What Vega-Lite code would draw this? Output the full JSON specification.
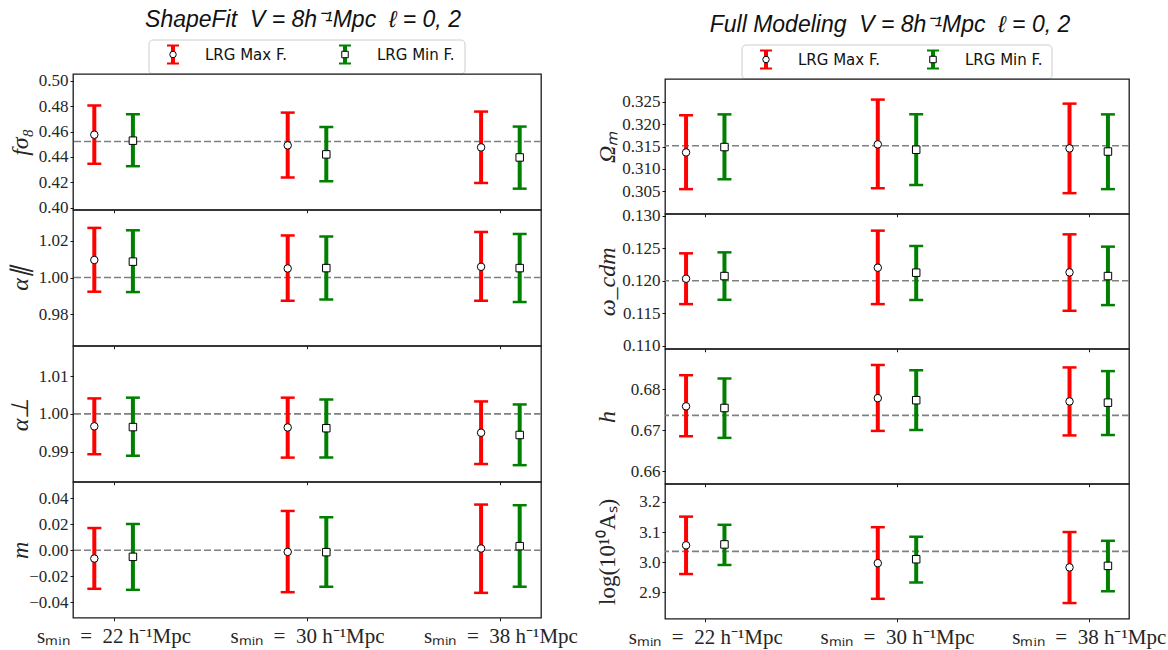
{
  "$schema": "https://vega.github.io/schema/vega-lite/v6.json",
  "background": "white",
  "padding": {"left": 7, "top": 8, "right": 0, "bottom": 0},
  "spacing": 15,
  "config": {
    "view": {"stroke": "#1a1a1a", "strokeWidth": 1.3},
    "font": "Liberation Serif",
    "axis": {
      "grid": false, "domain": false, "ticks": true, "tickColor": "#000", "tickSize": 3, "tickWidth": 0.9,
      "labelFont": "Liberation Serif", "labelFontSize": 17, "labelColor": "#262626", "labelPadding": 2,
      "labelFlush": false, "labelOverlap": false,
      "titleFont": "Liberation Serif", "titleFontSize": 24, "titleFontWeight": "normal", "titleColor": "#262626", "titleBaseline": "middle"
    }
  },
  "datasets": {
    "keys": [
      {"set": "Max", "label": "LRG Max F."},
      {"set": "Min", "label": "LRG Min F."}
    ],
    "refs": [
      {"param": "fs8", "ref": 0.4522},
      {"param": "apar", "ref": 1.0},
      {"param": "aper", "ref": 1.0},
      {"param": "m", "ref": 0.0},
      {"param": "Om", "ref": 0.3152},
      {"param": "ocdm", "ref": 0.12},
      {"param": "h", "ref": 0.6736},
      {"param": "lnAs", "ref": 3.036}
    ],
    "fits": [
      {"param": "fs8", "set": "Max", "smin": 22, "value": 0.4575, "lo": 0.4346, "hi": 0.4805},
      {"param": "fs8", "set": "Min", "smin": 22, "value": 0.4528, "lo": 0.4327, "hi": 0.4736},
      {"param": "fs8", "set": "Max", "smin": 30, "value": 0.4491, "lo": 0.4238, "hi": 0.4749},
      {"param": "fs8", "set": "Min", "smin": 30, "value": 0.4420, "lo": 0.4208, "hi": 0.4636},
      {"param": "fs8", "set": "Max", "smin": 38, "value": 0.4475, "lo": 0.4195, "hi": 0.4757},
      {"param": "fs8", "set": "Min", "smin": 38, "value": 0.4396, "lo": 0.4150, "hi": 0.4639},

      {"param": "apar", "set": "Max", "smin": 22, "value": 1.0095, "lo": 0.9923, "hi": 1.0269},
      {"param": "apar", "set": "Min", "smin": 22, "value": 1.0086, "lo": 0.9921, "hi": 1.0256},
      {"param": "apar", "set": "Max", "smin": 30, "value": 1.0049, "lo": 0.9874, "hi": 1.0228},
      {"param": "apar", "set": "Min", "smin": 30, "value": 1.0051, "lo": 0.9881, "hi": 1.0223},
      {"param": "apar", "set": "Max", "smin": 38, "value": 1.0058, "lo": 0.9874, "hi": 1.0247},
      {"param": "apar", "set": "Min", "smin": 38, "value": 1.0051, "lo": 0.9867, "hi": 1.0236},

      {"param": "aper", "set": "Max", "smin": 22, "value": 0.9967, "lo": 0.9893, "hi": 1.0041},
      {"param": "aper", "set": "Min", "smin": 22, "value": 0.9965, "lo": 0.9889, "hi": 1.0043},
      {"param": "aper", "set": "Max", "smin": 30, "value": 0.9964, "lo": 0.9884, "hi": 1.0043},
      {"param": "aper", "set": "Min", "smin": 30, "value": 0.9962, "lo": 0.9884, "hi": 1.0038},
      {"param": "aper", "set": "Max", "smin": 38, "value": 0.9950, "lo": 0.9867, "hi": 1.0033},
      {"param": "aper", "set": "Min", "smin": 38, "value": 0.9944, "lo": 0.9864, "hi": 1.0025},

      {"param": "m", "set": "Max", "smin": 22, "value": -0.0064, "lo": -0.0296, "hi": 0.0170},
      {"param": "m", "set": "Min", "smin": 22, "value": -0.0051, "lo": -0.0304, "hi": 0.0201},
      {"param": "m", "set": "Max", "smin": 30, "value": -0.0013, "lo": -0.0322, "hi": 0.0301},
      {"param": "m", "set": "Min", "smin": 30, "value": -0.0015, "lo": -0.0280, "hi": 0.0252},
      {"param": "m", "set": "Max", "smin": 38, "value": 0.0013, "lo": -0.0327, "hi": 0.0350},
      {"param": "m", "set": "Min", "smin": 38, "value": 0.0031, "lo": -0.0280, "hi": 0.0345},

      {"param": "Om", "set": "Max", "smin": 22, "value": 0.3137, "lo": 0.3055, "hi": 0.3220},
      {"param": "Om", "set": "Min", "smin": 22, "value": 0.3149, "lo": 0.3077, "hi": 0.3222},
      {"param": "Om", "set": "Max", "smin": 30, "value": 0.3155, "lo": 0.3057, "hi": 0.3255},
      {"param": "Om", "set": "Min", "smin": 30, "value": 0.3143, "lo": 0.3064, "hi": 0.3222},
      {"param": "Om", "set": "Max", "smin": 38, "value": 0.3146, "lo": 0.3046, "hi": 0.3246},
      {"param": "Om", "set": "Min", "smin": 38, "value": 0.3139, "lo": 0.3055, "hi": 0.3222},

      {"param": "ocdm", "set": "Max", "smin": 22, "value": 0.12031, "lo": 0.11639, "hi": 0.12423},
      {"param": "ocdm", "set": "Min", "smin": 22, "value": 0.12072, "lo": 0.11706, "hi": 0.12438},
      {"param": "ocdm", "set": "Max", "smin": 30, "value": 0.12201, "lo": 0.11639, "hi": 0.12773},
      {"param": "ocdm", "set": "Min", "smin": 30, "value": 0.12124, "lo": 0.11701, "hi": 0.12536},
      {"param": "ocdm", "set": "Max", "smin": 38, "value": 0.12129, "lo": 0.11536, "hi": 0.12716},
      {"param": "ocdm", "set": "Min", "smin": 38, "value": 0.12072, "lo": 0.11624, "hi": 0.12526},

      {"param": "h", "set": "Max", "smin": 22, "value": 0.6758, "lo": 0.6685, "hi": 0.6834},
      {"param": "h", "set": "Min", "smin": 22, "value": 0.6754, "lo": 0.6681, "hi": 0.6826},
      {"param": "h", "set": "Max", "smin": 30, "value": 0.6778, "lo": 0.6698, "hi": 0.6859},
      {"param": "h", "set": "Min", "smin": 30, "value": 0.6773, "lo": 0.6700, "hi": 0.6846},
      {"param": "h", "set": "Max", "smin": 38, "value": 0.6770, "lo": 0.6687, "hi": 0.6853},
      {"param": "h", "set": "Min", "smin": 38, "value": 0.6767, "lo": 0.6688, "hi": 0.6844},

      {"param": "lnAs", "set": "Max", "smin": 22, "value": 3.056, "lo": 2.961, "hi": 3.151},
      {"param": "lnAs", "set": "Min", "smin": 22, "value": 3.059, "lo": 2.991, "hi": 3.124},
      {"param": "lnAs", "set": "Max", "smin": 30, "value": 2.997, "lo": 2.879, "hi": 3.116},
      {"param": "lnAs", "set": "Min", "smin": 30, "value": 3.010, "lo": 2.933, "hi": 3.084},
      {"param": "lnAs", "set": "Max", "smin": 38, "value": 2.983, "lo": 2.865, "hi": 3.100},
      {"param": "lnAs", "set": "Min", "smin": 38, "value": 2.988, "lo": 2.904, "hi": 3.071}
    ]
  },
  "hconcat": [
    {
      "spacing": 0,
      "bounds": "flush",
      "center": true,
      "vconcat": [
        {
          "title": {"text": "ShapeFit\u00a0\u00a0V = 8h⁻¹Mpc\u00a0\u00a0ℓ = 0, 2", "font": "Liberation Sans", "fontSize": 23, "fontStyle": "italic", "fontWeight": "normal", "color": "#111", "anchor": "middle", "frame": "group", "offset": 8, "dx": -4},
          "width": 316, "height": 34,
          "view": {"stroke": null},
          "layer": [
            {"data": {"values": [{}]}, "mark": {"type": "rect", "filled": false, "stroke": "#cccccc", "strokeWidth": 1, "cornerRadius": 4, "y2Offset": -5}, "encoding": {}},
            {
              "data": {"name": "keys"},
              "encoding": {"x": {"field": "set", "type": "nominal", "scale": {"type": "point", "padding": 0, "domain": ["Max", "Min"], "range": [24, 196]}, "axis": null}},
              "layer": [
                {"mark": {"type": "tick", "orient": "vertical", "size": 18, "thickness": 4, "opacity": 1, "yOffset": -2.5},
                 "encoding": {"color": {"field": "set", "type": "nominal", "scale": {"domain": ["Max", "Min"], "range": ["#ff0000", "#008000"]}, "legend": null}}},
                {"mark": {"type": "tick", "orient": "horizontal", "size": 12, "thickness": 2, "opacity": 1, "yOffset": -11.5},
                 "encoding": {"color": {"field": "set", "type": "nominal", "legend": null}}},
                {"mark": {"type": "tick", "orient": "horizontal", "size": 12, "thickness": 2, "opacity": 1, "yOffset": 6.5},
                 "encoding": {"color": {"field": "set", "type": "nominal", "legend": null}}},
                {"mark": {"type": "point", "filled": true, "fill": "white", "stroke": "black", "strokeWidth": 1, "size": 42, "opacity": 1, "yOffset": -2.5},
                 "encoding": {"shape": {"field": "set", "type": "nominal", "scale": {"domain": ["Max", "Min"], "range": ["circle", "square"]}, "legend": null}}},
                {"mark": {"type": "text", "align": "left", "baseline": "middle", "dx": 32, "yOffset": -2.5, "font": "DejaVu Sans", "fontSize": 15, "color": "#111"},
                 "encoding": {"text": {"field": "label"}}}
              ]
            }
          ]
        },
        {
          "width": 468, "height": 135.75,
          "layer": [
            {"data": {"name": "refs"}, "transform": [{"filter": "datum.param === 'fs8'"}],
             "mark": {"type": "rule", "color": "#808080", "strokeWidth": 1.6, "strokeDash": [7, 3]},
             "encoding": {"y": {"field": "ref", "type": "quantitative", "scale": {"domain": [0.3984, 0.5053], "nice": false, "zero": false},
               "axis": {"values": [0.4, 0.42, 0.44, 0.46, 0.48, 0.5], "tickCount": 12, "format": ".2f", "labelOverlap": false, "title": "fσ₈", "titleFontStyle": "italic", "titleX": -53}}}},
            {"data": {"name": "fits"}, "transform": [{"filter": "datum.param === 'fs8' && datum.set === 'Max'"}],
             "encoding": {"x": {"field": "smin", "type": "quantitative", "scale": {"domain": [20.32, 39.68], "nice": false, "zero": false}, "axis": {"values": [22, 30, 38], "labels": false, "title": null}}},
             "layer": [
               {"mark": {"type": "rule", "color": "#ff0000", "strokeWidth": 4, "xOffset": -19.3}, "encoding": {"y": {"field": "lo", "type": "quantitative"}, "y2": {"field": "hi"}}},
               {"transform": [{"fold": ["lo", "hi"], "as": ["end", "bound"]}], "mark": {"type": "tick", "orient": "horizontal", "color": "#ff0000", "size": 14, "thickness": 2.5, "opacity": 1, "xOffset": -19.3}, "encoding": {"y": {"field": "bound", "type": "quantitative"}}},
               {"mark": {"type": "point", "shape": "circle", "filled": true, "fill": "white", "stroke": "black", "strokeWidth": 1, "size": 56, "opacity": 1, "xOffset": -19.3}, "encoding": {"y": {"field": "value", "type": "quantitative"}}}
             ]},
            {"data": {"name": "fits"}, "transform": [{"filter": "datum.param === 'fs8' && datum.set === 'Min'"}],
             "encoding": {"x": {"field": "smin", "type": "quantitative", "scale": {"domain": [20.32, 39.68], "nice": false, "zero": false}, "axis": {"values": [22, 30, 38], "labels": false, "title": null}}},
             "layer": [
               {"mark": {"type": "rule", "color": "#008000", "strokeWidth": 4, "xOffset": 19.3}, "encoding": {"y": {"field": "lo", "type": "quantitative"}, "y2": {"field": "hi"}}},
               {"transform": [{"fold": ["lo", "hi"], "as": ["end", "bound"]}], "mark": {"type": "tick", "orient": "horizontal", "color": "#008000", "size": 14, "thickness": 2.5, "opacity": 1, "xOffset": 19.3}, "encoding": {"y": {"field": "bound", "type": "quantitative"}}},
               {"mark": {"type": "point", "shape": "square", "filled": true, "fill": "white", "stroke": "black", "strokeWidth": 1, "size": 56, "opacity": 1, "xOffset": 19.3}, "encoding": {"y": {"field": "value", "type": "quantitative"}}}
             ]}
          ]
        },
        {
          "width": 468, "height": 135.75,
          "layer": [
            {"data": {"name": "refs"}, "transform": [{"filter": "datum.param === 'apar'"}],
             "mark": {"type": "rule", "color": "#808080", "strokeWidth": 1.6, "strokeDash": [7, 3]},
             "encoding": {"y": {"field": "ref", "type": "quantitative", "scale": {"domain": [0.963, 1.0366], "nice": false, "zero": false},
               "axis": {"values": [0.98, 1.0, 1.02], "tickCount": 12, "format": ".2f", "labelOverlap": false, "title": "α∥", "titleFontStyle": "italic", "titleX": -53}}}},
            {"data": {"name": "fits"}, "transform": [{"filter": "datum.param === 'apar' && datum.set === 'Max'"}],
             "encoding": {"x": {"field": "smin", "type": "quantitative", "scale": {"domain": [20.32, 39.68], "nice": false, "zero": false}, "axis": {"values": [22, 30, 38], "labels": false, "title": null}}},
             "layer": [
               {"mark": {"type": "rule", "color": "#ff0000", "strokeWidth": 4, "xOffset": -19.3}, "encoding": {"y": {"field": "lo", "type": "quantitative"}, "y2": {"field": "hi"}}},
               {"transform": [{"fold": ["lo", "hi"], "as": ["end", "bound"]}], "mark": {"type": "tick", "orient": "horizontal", "color": "#ff0000", "size": 14, "thickness": 2.5, "opacity": 1, "xOffset": -19.3}, "encoding": {"y": {"field": "bound", "type": "quantitative"}}},
               {"mark": {"type": "point", "shape": "circle", "filled": true, "fill": "white", "stroke": "black", "strokeWidth": 1, "size": 56, "opacity": 1, "xOffset": -19.3}, "encoding": {"y": {"field": "value", "type": "quantitative"}}}
             ]},
            {"data": {"name": "fits"}, "transform": [{"filter": "datum.param === 'apar' && datum.set === 'Min'"}],
             "encoding": {"x": {"field": "smin", "type": "quantitative", "scale": {"domain": [20.32, 39.68], "nice": false, "zero": false}, "axis": {"values": [22, 30, 38], "labels": false, "title": null}}},
             "layer": [
               {"mark": {"type": "rule", "color": "#008000", "strokeWidth": 4, "xOffset": 19.3}, "encoding": {"y": {"field": "lo", "type": "quantitative"}, "y2": {"field": "hi"}}},
               {"transform": [{"fold": ["lo", "hi"], "as": ["end", "bound"]}], "mark": {"type": "tick", "orient": "horizontal", "color": "#008000", "size": 14, "thickness": 2.5, "opacity": 1, "xOffset": 19.3}, "encoding": {"y": {"field": "bound", "type": "quantitative"}}},
               {"mark": {"type": "point", "shape": "square", "filled": true, "fill": "white", "stroke": "black", "strokeWidth": 1, "size": 56, "opacity": 1, "xOffset": 19.3}, "encoding": {"y": {"field": "value", "type": "quantitative"}}}
             ]}
          ]
        },
        {
          "width": 468, "height": 135.75,
          "layer": [
            {"data": {"name": "refs"}, "transform": [{"filter": "datum.param === 'aper'"}],
             "mark": {"type": "rule", "color": "#808080", "strokeWidth": 1.6, "strokeDash": [7, 3]},
             "encoding": {"y": {"field": "ref", "type": "quantitative", "scale": {"domain": [0.982, 1.018], "nice": false, "zero": false},
               "axis": {"values": [0.99, 1.0, 1.01], "tickCount": 12, "format": ".2f", "labelOverlap": false, "title": "α⊥", "titleFontStyle": "italic", "titleX": -53}}}},
            {"data": {"name": "fits"}, "transform": [{"filter": "datum.param === 'aper' && datum.set === 'Max'"}],
             "encoding": {"x": {"field": "smin", "type": "quantitative", "scale": {"domain": [20.32, 39.68], "nice": false, "zero": false}, "axis": {"values": [22, 30, 38], "labels": false, "title": null}}},
             "layer": [
               {"mark": {"type": "rule", "color": "#ff0000", "strokeWidth": 4, "xOffset": -19.3}, "encoding": {"y": {"field": "lo", "type": "quantitative"}, "y2": {"field": "hi"}}},
               {"transform": [{"fold": ["lo", "hi"], "as": ["end", "bound"]}], "mark": {"type": "tick", "orient": "horizontal", "color": "#ff0000", "size": 14, "thickness": 2.5, "opacity": 1, "xOffset": -19.3}, "encoding": {"y": {"field": "bound", "type": "quantitative"}}},
               {"mark": {"type": "point", "shape": "circle", "filled": true, "fill": "white", "stroke": "black", "strokeWidth": 1, "size": 56, "opacity": 1, "xOffset": -19.3}, "encoding": {"y": {"field": "value", "type": "quantitative"}}}
             ]},
            {"data": {"name": "fits"}, "transform": [{"filter": "datum.param === 'aper' && datum.set === 'Min'"}],
             "encoding": {"x": {"field": "smin", "type": "quantitative", "scale": {"domain": [20.32, 39.68], "nice": false, "zero": false}, "axis": {"values": [22, 30, 38], "labels": false, "title": null}}},
             "layer": [
               {"mark": {"type": "rule", "color": "#008000", "strokeWidth": 4, "xOffset": 19.3}, "encoding": {"y": {"field": "lo", "type": "quantitative"}, "y2": {"field": "hi"}}},
               {"transform": [{"fold": ["lo", "hi"], "as": ["end", "bound"]}], "mark": {"type": "tick", "orient": "horizontal", "color": "#008000", "size": 14, "thickness": 2.5, "opacity": 1, "xOffset": 19.3}, "encoding": {"y": {"field": "bound", "type": "quantitative"}}},
               {"mark": {"type": "point", "shape": "square", "filled": true, "fill": "white", "stroke": "black", "strokeWidth": 1, "size": 56, "opacity": 1, "xOffset": 19.3}, "encoding": {"y": {"field": "value", "type": "quantitative"}}}
             ]}
          ]
        },
        {
          "width": 468, "height": 135.75,
          "layer": [
            {"data": {"name": "refs"}, "transform": [{"filter": "datum.param === 'm'"}],
             "mark": {"type": "rule", "color": "#808080", "strokeWidth": 1.6, "strokeDash": [7, 3]},
             "encoding": {"y": {"field": "ref", "type": "quantitative", "scale": {"domain": [-0.0518, 0.0523], "nice": false, "zero": false},
               "axis": {"values": [-0.04, -0.02, 0, 0.02, 0.04], "tickCount": 12, "format": ".2f", "labelOverlap": false, "title": "m", "titleFontStyle": "italic", "titleX": -53}}}},
            {"data": {"name": "fits"}, "transform": [{"filter": "datum.param === 'm' && datum.set === 'Max'"}],
             "encoding": {"x": {"field": "smin", "type": "quantitative", "scale": {"domain": [20.32, 39.68], "nice": false, "zero": false}, "axis": {"values": [22, 30, 38], "title": null, "labelExpr": "'sₘᵢₙ\u00a0\u00a0=\u00a0\u00a0' + datum.value + '\u00a0h⁻¹Mpc'", "labelFontSize": 21, "labelPadding": 5}}},
             "layer": [
               {"mark": {"type": "rule", "color": "#ff0000", "strokeWidth": 4, "xOffset": -19.3}, "encoding": {"y": {"field": "lo", "type": "quantitative"}, "y2": {"field": "hi"}}},
               {"transform": [{"fold": ["lo", "hi"], "as": ["end", "bound"]}], "mark": {"type": "tick", "orient": "horizontal", "color": "#ff0000", "size": 14, "thickness": 2.5, "opacity": 1, "xOffset": -19.3}, "encoding": {"y": {"field": "bound", "type": "quantitative"}}},
               {"mark": {"type": "point", "shape": "circle", "filled": true, "fill": "white", "stroke": "black", "strokeWidth": 1, "size": 56, "opacity": 1, "xOffset": -19.3}, "encoding": {"y": {"field": "value", "type": "quantitative"}}}
             ]},
            {"data": {"name": "fits"}, "transform": [{"filter": "datum.param === 'm' && datum.set === 'Min'"}],
             "encoding": {"x": {"field": "smin", "type": "quantitative", "scale": {"domain": [20.32, 39.68], "nice": false, "zero": false}, "axis": {"values": [22, 30, 38], "title": null, "labelExpr": "'sₘᵢₙ\u00a0\u00a0=\u00a0\u00a0' + datum.value + '\u00a0h⁻¹Mpc'", "labelFontSize": 21, "labelPadding": 5}}},
             "layer": [
               {"mark": {"type": "rule", "color": "#008000", "strokeWidth": 4, "xOffset": 19.3}, "encoding": {"y": {"field": "lo", "type": "quantitative"}, "y2": {"field": "hi"}}},
               {"transform": [{"fold": ["lo", "hi"], "as": ["end", "bound"]}], "mark": {"type": "tick", "orient": "horizontal", "color": "#008000", "size": 14, "thickness": 2.5, "opacity": 1, "xOffset": 19.3}, "encoding": {"y": {"field": "bound", "type": "quantitative"}}},
               {"mark": {"type": "point", "shape": "square", "filled": true, "fill": "white", "stroke": "black", "strokeWidth": 1, "size": 56, "opacity": 1, "xOffset": 19.3}, "encoding": {"y": {"field": "value", "type": "quantitative"}}}
             ]}
          ]
        }
      ]
    },
    {
      "spacing": 0,
      "bounds": "flush",
      "center": true,
      "vconcat": [
        {
          "title": {"text": "Full Modeling\u00a0\u00a0V = 8h⁻¹Mpc\u00a0\u00a0ℓ = 0, 2", "font": "Liberation Sans", "fontSize": 23, "fontStyle": "italic", "fontWeight": "normal", "color": "#111", "anchor": "middle", "frame": "group", "offset": 3, "dx": -7},
          "width": 310, "height": 39,
          "view": {"stroke": null},
          "layer": [
            {"data": {"values": [{}]}, "mark": {"type": "rect", "filled": false, "stroke": "#cccccc", "strokeWidth": 1, "cornerRadius": 4, "yOffset": 5, "y2Offset": -5}, "encoding": {}},
            {
              "data": {"name": "keys"},
              "encoding": {"x": {"field": "set", "type": "nominal", "scale": {"type": "point", "padding": 0, "domain": ["Max", "Min"], "range": [24, 191]}, "axis": null}},
              "layer": [
                {"mark": {"type": "tick", "orient": "vertical", "size": 18, "thickness": 4, "opacity": 1},
                 "encoding": {"color": {"field": "set", "type": "nominal", "legend": null}}},
                {"mark": {"type": "tick", "orient": "horizontal", "size": 12, "thickness": 2, "opacity": 1, "yOffset": -9},
                 "encoding": {"color": {"field": "set", "type": "nominal", "legend": null}}},
                {"mark": {"type": "tick", "orient": "horizontal", "size": 12, "thickness": 2, "opacity": 1, "yOffset": 9},
                 "encoding": {"color": {"field": "set", "type": "nominal", "legend": null}}},
                {"mark": {"type": "point", "filled": true, "fill": "white", "stroke": "black", "strokeWidth": 1, "size": 42, "opacity": 1},
                 "encoding": {"shape": {"field": "set", "type": "nominal", "legend": null}}},
                {"mark": {"type": "text", "align": "left", "baseline": "middle", "dx": 32, "font": "DejaVu Sans", "fontSize": 15, "color": "#111"},
                 "encoding": {"text": {"field": "label"}}}
              ]
            }
          ]
        },
        {
          "width": 464, "height": 134.75,
          "layer": [
            {"data": {"name": "refs"}, "transform": [{"filter": "datum.param === 'Om'"}],
             "mark": {"type": "rule", "color": "#808080", "strokeWidth": 1.6, "strokeDash": [7, 3]},
             "encoding": {"y": {"field": "ref", "type": "quantitative", "scale": {"domain": [0.3, 0.3301], "nice": false, "zero": false},
               "axis": {"values": [0.305, 0.31, 0.315, 0.32, 0.325], "tickCount": 12, "format": ".3f", "labelOverlap": false, "title": "Ωₘ", "titleFontStyle": "italic", "titleX": -58}}}},
            {"data": {"name": "fits"}, "transform": [{"filter": "datum.param === 'Om' && datum.set === 'Max'"}],
             "encoding": {"x": {"field": "smin", "type": "quantitative", "scale": {"domain": [20.32, 39.68], "nice": false, "zero": false}, "axis": {"values": [22, 30, 38], "labels": false, "title": null}}},
             "layer": [
               {"mark": {"type": "rule", "color": "#ff0000", "strokeWidth": 4, "xOffset": -19.2}, "encoding": {"y": {"field": "lo", "type": "quantitative"}, "y2": {"field": "hi"}}},
               {"transform": [{"fold": ["lo", "hi"], "as": ["end", "bound"]}], "mark": {"type": "tick", "orient": "horizontal", "color": "#ff0000", "size": 14, "thickness": 2.5, "opacity": 1, "xOffset": -19.2}, "encoding": {"y": {"field": "bound", "type": "quantitative"}}},
               {"mark": {"type": "point", "shape": "circle", "filled": true, "fill": "white", "stroke": "black", "strokeWidth": 1, "size": 56, "opacity": 1, "xOffset": -19.2}, "encoding": {"y": {"field": "value", "type": "quantitative"}}}
             ]},
            {"data": {"name": "fits"}, "transform": [{"filter": "datum.param === 'Om' && datum.set === 'Min'"}],
             "encoding": {"x": {"field": "smin", "type": "quantitative", "scale": {"domain": [20.32, 39.68], "nice": false, "zero": false}, "axis": {"values": [22, 30, 38], "labels": false, "title": null}}},
             "layer": [
               {"mark": {"type": "rule", "color": "#008000", "strokeWidth": 4, "xOffset": 19.2}, "encoding": {"y": {"field": "lo", "type": "quantitative"}, "y2": {"field": "hi"}}},
               {"transform": [{"fold": ["lo", "hi"], "as": ["end", "bound"]}], "mark": {"type": "tick", "orient": "horizontal", "color": "#008000", "size": 14, "thickness": 2.5, "opacity": 1, "xOffset": 19.2}, "encoding": {"y": {"field": "bound", "type": "quantitative"}}},
               {"mark": {"type": "point", "shape": "square", "filled": true, "fill": "white", "stroke": "black", "strokeWidth": 1, "size": 56, "opacity": 1, "xOffset": 19.2}, "encoding": {"y": {"field": "value", "type": "quantitative"}}}
             ]}
          ]
        },
        {
          "width": 464, "height": 134.75,
          "layer": [
            {"data": {"name": "refs"}, "transform": [{"filter": "datum.param === 'ocdm'"}],
             "mark": {"type": "rule", "color": "#808080", "strokeWidth": 1.6, "strokeDash": [7, 3]},
             "encoding": {"y": {"field": "ref", "type": "quantitative", "scale": {"domain": [0.1095, 0.1303], "nice": false, "zero": false},
               "axis": {"values": [0.11, 0.115, 0.12, 0.125, 0.13], "tickCount": 12, "format": ".3f", "labelOverlap": false, "title": "ω_cdm", "titleFontStyle": "italic", "titleX": -58}}}},
            {"data": {"name": "fits"}, "transform": [{"filter": "datum.param === 'ocdm' && datum.set === 'Max'"}],
             "encoding": {"x": {"field": "smin", "type": "quantitative", "scale": {"domain": [20.32, 39.68], "nice": false, "zero": false}, "axis": {"values": [22, 30, 38], "labels": false, "title": null}}},
             "layer": [
               {"mark": {"type": "rule", "color": "#ff0000", "strokeWidth": 4, "xOffset": -19.2}, "encoding": {"y": {"field": "lo", "type": "quantitative"}, "y2": {"field": "hi"}}},
               {"transform": [{"fold": ["lo", "hi"], "as": ["end", "bound"]}], "mark": {"type": "tick", "orient": "horizontal", "color": "#ff0000", "size": 14, "thickness": 2.5, "opacity": 1, "xOffset": -19.2}, "encoding": {"y": {"field": "bound", "type": "quantitative"}}},
               {"mark": {"type": "point", "shape": "circle", "filled": true, "fill": "white", "stroke": "black", "strokeWidth": 1, "size": 56, "opacity": 1, "xOffset": -19.2}, "encoding": {"y": {"field": "value", "type": "quantitative"}}}
             ]},
            {"data": {"name": "fits"}, "transform": [{"filter": "datum.param === 'ocdm' && datum.set === 'Min'"}],
             "encoding": {"x": {"field": "smin", "type": "quantitative", "scale": {"domain": [20.32, 39.68], "nice": false, "zero": false}, "axis": {"values": [22, 30, 38], "labels": false, "title": null}}},
             "layer": [
               {"mark": {"type": "rule", "color": "#008000", "strokeWidth": 4, "xOffset": 19.2}, "encoding": {"y": {"field": "lo", "type": "quantitative"}, "y2": {"field": "hi"}}},
               {"transform": [{"fold": ["lo", "hi"], "as": ["end", "bound"]}], "mark": {"type": "tick", "orient": "horizontal", "color": "#008000", "size": 14, "thickness": 2.5, "opacity": 1, "xOffset": 19.2}, "encoding": {"y": {"field": "bound", "type": "quantitative"}}},
               {"mark": {"type": "point", "shape": "square", "filled": true, "fill": "white", "stroke": "black", "strokeWidth": 1, "size": 56, "opacity": 1, "xOffset": 19.2}, "encoding": {"y": {"field": "value", "type": "quantitative"}}}
             ]}
          ]
        },
        {
          "width": 464, "height": 134.75,
          "layer": [
            {"data": {"name": "refs"}, "transform": [{"filter": "datum.param === 'h'"}],
             "mark": {"type": "rule", "color": "#808080", "strokeWidth": 1.6, "strokeDash": [7, 3]},
             "encoding": {"y": {"field": "ref", "type": "quantitative", "scale": {"domain": [0.6569, 0.6898], "nice": false, "zero": false},
               "axis": {"values": [0.66, 0.67, 0.68], "tickCount": 12, "format": ".2f", "labelOverlap": false, "title": "h", "titleFontStyle": "italic", "titleX": -58}}}},
            {"data": {"name": "fits"}, "transform": [{"filter": "datum.param === 'h' && datum.set === 'Max'"}],
             "encoding": {"x": {"field": "smin", "type": "quantitative", "scale": {"domain": [20.32, 39.68], "nice": false, "zero": false}, "axis": {"values": [22, 30, 38], "labels": false, "title": null}}},
             "layer": [
               {"mark": {"type": "rule", "color": "#ff0000", "strokeWidth": 4, "xOffset": -19.2}, "encoding": {"y": {"field": "lo", "type": "quantitative"}, "y2": {"field": "hi"}}},
               {"transform": [{"fold": ["lo", "hi"], "as": ["end", "bound"]}], "mark": {"type": "tick", "orient": "horizontal", "color": "#ff0000", "size": 14, "thickness": 2.5, "opacity": 1, "xOffset": -19.2}, "encoding": {"y": {"field": "bound", "type": "quantitative"}}},
               {"mark": {"type": "point", "shape": "circle", "filled": true, "fill": "white", "stroke": "black", "strokeWidth": 1, "size": 56, "opacity": 1, "xOffset": -19.2}, "encoding": {"y": {"field": "value", "type": "quantitative"}}}
             ]},
            {"data": {"name": "fits"}, "transform": [{"filter": "datum.param === 'h' && datum.set === 'Min'"}],
             "encoding": {"x": {"field": "smin", "type": "quantitative", "scale": {"domain": [20.32, 39.68], "nice": false, "zero": false}, "axis": {"values": [22, 30, 38], "labels": false, "title": null}}},
             "layer": [
               {"mark": {"type": "rule", "color": "#008000", "strokeWidth": 4, "xOffset": 19.2}, "encoding": {"y": {"field": "lo", "type": "quantitative"}, "y2": {"field": "hi"}}},
               {"transform": [{"fold": ["lo", "hi"], "as": ["end", "bound"]}], "mark": {"type": "tick", "orient": "horizontal", "color": "#008000", "size": 14, "thickness": 2.5, "opacity": 1, "xOffset": 19.2}, "encoding": {"y": {"field": "bound", "type": "quantitative"}}},
               {"mark": {"type": "point", "shape": "square", "filled": true, "fill": "white", "stroke": "black", "strokeWidth": 1, "size": 56, "opacity": 1, "xOffset": 19.2}, "encoding": {"y": {"field": "value", "type": "quantitative"}}}
             ]}
          ]
        },
        {
          "width": 464, "height": 134.75,
          "layer": [
            {"data": {"name": "refs"}, "transform": [{"filter": "datum.param === 'lnAs'"}],
             "mark": {"type": "rule", "color": "#808080", "strokeWidth": 1.6, "strokeDash": [7, 3]},
             "encoding": {"y": {"field": "ref", "type": "quantitative", "scale": {"domain": [2.813, 3.259], "nice": false, "zero": false},
               "axis": {"values": [2.9, 3.0, 3.1, 3.2], "tickCount": 12, "format": ".1f", "labelOverlap": false, "title": "log(10¹⁰Aₛ)", "titleFontSize": 23, "titleX": -58}}}},
            {"data": {"name": "fits"}, "transform": [{"filter": "datum.param === 'lnAs' && datum.set === 'Max'"}],
             "encoding": {"x": {"field": "smin", "type": "quantitative", "scale": {"domain": [20.32, 39.68], "nice": false, "zero": false}, "axis": {"values": [22, 30, 38], "title": null, "labelExpr": "'sₘᵢₙ\u00a0\u00a0=\u00a0\u00a0' + datum.value + '\u00a0h⁻¹Mpc'", "labelFontSize": 21, "labelPadding": 5}}},
             "layer": [
               {"mark": {"type": "rule", "color": "#ff0000", "strokeWidth": 4, "xOffset": -19.2}, "encoding": {"y": {"field": "lo", "type": "quantitative"}, "y2": {"field": "hi"}}},
               {"transform": [{"fold": ["lo", "hi"], "as": ["end", "bound"]}], "mark": {"type": "tick", "orient": "horizontal", "color": "#ff0000", "size": 14, "thickness": 2.5, "opacity": 1, "xOffset": -19.2}, "encoding": {"y": {"field": "bound", "type": "quantitative"}}},
               {"mark": {"type": "point", "shape": "circle", "filled": true, "fill": "white", "stroke": "black", "strokeWidth": 1, "size": 56, "opacity": 1, "xOffset": -19.2}, "encoding": {"y": {"field": "value", "type": "quantitative"}}}
             ]},
            {"data": {"name": "fits"}, "transform": [{"filter": "datum.param === 'lnAs' && datum.set === 'Min'"}],
             "encoding": {"x": {"field": "smin", "type": "quantitative", "scale": {"domain": [20.32, 39.68], "nice": false, "zero": false}, "axis": {"values": [22, 30, 38], "title": null, "labelExpr": "'sₘᵢₙ\u00a0\u00a0=\u00a0\u00a0' + datum.value + '\u00a0h⁻¹Mpc'", "labelFontSize": 21, "labelPadding": 5}}},
             "layer": [
               {"mark": {"type": "rule", "color": "#008000", "strokeWidth": 4, "xOffset": 19.2}, "encoding": {"y": {"field": "lo", "type": "quantitative"}, "y2": {"field": "hi"}}},
               {"transform": [{"fold": ["lo", "hi"], "as": ["end", "bound"]}], "mark": {"type": "tick", "orient": "horizontal", "color": "#008000", "size": 14, "thickness": 2.5, "opacity": 1, "xOffset": 19.2}, "encoding": {"y": {"field": "bound", "type": "quantitative"}}},
               {"mark": {"type": "point", "shape": "square", "filled": true, "fill": "white", "stroke": "black", "strokeWidth": 1, "size": 56, "opacity": 1, "xOffset": 19.2}, "encoding": {"y": {"field": "value", "type": "quantitative"}}}
             ]}
          ]
        }
      ]
    }
  ]
}
